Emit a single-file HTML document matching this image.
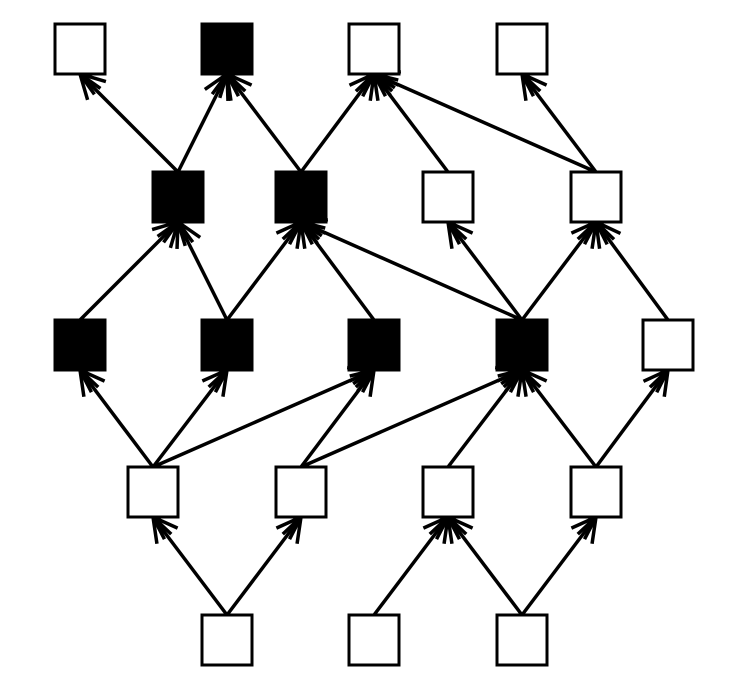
<!DOCTYPE html>
<html><head><meta charset="utf-8"><style>
html,body{margin:0;padding:0;background:#fff;}
svg{display:block;}
</style></head><body>
<svg id="g" width="744" height="695" viewBox="0 0 744 695" xmlns="http://www.w3.org/2000/svg"></svg>
<script>
const nodeIds = ["a1","a2","a3","a4","b1","b2","b3","b4","c1","c2","c3","c4","c5","d1","d2","d3","d4","e1","e2","e3"];
const nodeX   = [80,227,374,522, 178,301,448,596, 80,227,374,522,668, 153,301,448,596, 227,374,522];
const nodeRow = [0,0,0,0, 1,1,1,1, 2,2,2,2,2, 3,3,3,3, 4,4,4];
const nodeFilled = [0,1,0,0, 1,1,0,0, 1,1,1,1,0, 0,0,0,0, 0,0,0];
const edgeFrom = ["b1","b1","b2","b2","b3","b4","b4","c1","c2","c2","c3","c4","c4","c4","c5","d1","d1","d1","d2","d2","d3","d4","d4","e1","e1","e2","e3","e3"];
const edgeTo   = ["a1","a2","a2","a3","a3","a3","a4","b1","b1","b2","b2","b2","b3","b4","b4","c1","c2","c3","c3","c4","c4","c4","c5","d1","d2","d3","d3","d4"];
const rowY = [49,197,345,492,640];
const S = 50;
const svg = document.getElementById('g');
const NS = "http://www.w3.org/2000/svg";
const idx = id => nodeIds.indexOf(id);
edgeFrom.forEach((f,i)=>{
  const a=idx(f), b=idx(edgeTo[i]);
  const x1=nodeX[a], y1=rowY[nodeRow[a]]-S/2, x2=nodeX[b], y2=rowY[nodeRow[b]]+S/2;
  const g=document.createElementNS(NS,'g');
  
  
  const l=document.createElementNS(NS,'line');
  l.setAttribute('x1',x1);l.setAttribute('y1',y1);l.setAttribute('x2',x2);l.setAttribute('y2',y2);
  l.setAttribute('stroke','#000');l.setAttribute('stroke-width','3.5');
  g.appendChild(l);
  const ang=Math.atan2(y2-y1,x2-x1);
  [[0.5,27],[0.17,25]].forEach(([sp,L])=>{
    const p=document.createElementNS(NS,'polyline');
    const ax=x2-L*Math.cos(ang-sp), ay=y2-L*Math.sin(ang-sp);
    const bx=x2-L*Math.cos(ang+sp), by=y2-L*Math.sin(ang+sp);
    p.setAttribute('points',`${ax},${ay} ${x2},${y2} ${bx},${by}`);
    p.setAttribute('fill','none');p.setAttribute('stroke','#000');p.setAttribute('stroke-width','3.5');
    g.appendChild(p);
  });
  svg.appendChild(g);
});
nodeIds.forEach((id,i)=>{
  const r=document.createElementNS(NS,'rect');
  r.setAttribute('x',nodeX[i]-S/2);r.setAttribute('y',rowY[nodeRow[i]]-S/2);
  r.setAttribute('width',S);r.setAttribute('height',S);
  r.setAttribute('fill',nodeFilled[i]?'#000':'#fff');
  r.setAttribute('stroke','#000');r.setAttribute('stroke-width','3');
  
  
  svg.appendChild(r);
});
</script>
</body></html>
